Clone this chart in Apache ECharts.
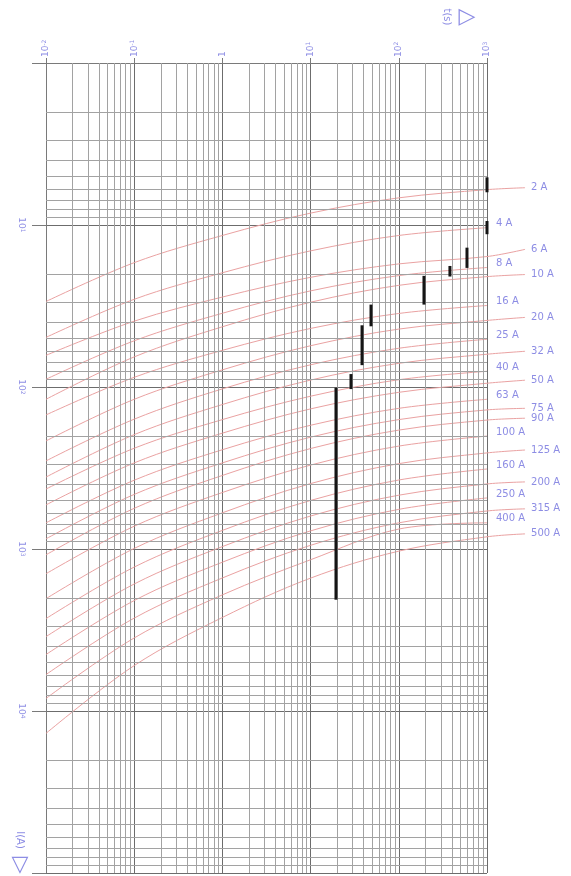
<!DOCTYPE html>
<html>
<head>
<meta charset="utf-8">
<script src="https://cdn.jsdelivr.net/npm/echarts@6/dist/echarts.min.js"></script>
<style>
html,body{margin:0;padding:0;background:#ffffff;}
#chart{width:571px;height:876px;}
</style>
</head>
<body>
<div id="chart"></div>
<script>
// ---------- DATA ----------
// time values (s) where curve currents were read (decade grid lines), plus the leader end
const curveTimes = [0.01, 0.1, 1, 10, 100, 1000];
const leaderTime = 2700;

const curveNames = ['2 A','4 A','6 A','8 A','10 A','16 A','20 A','25 A','32 A','40 A','50 A',
                    '63 A','75 A','90 A','100 A','125 A','160 A','200 A','250 A','315 A','400 A','500 A'];

// current (A) at each curve time; a 7th value is the end of the leader line to the label
const c2   = [29.3, 16.9, 11.5, 8.38, 6.75, 6.01, 5.85];
const c4   = [48.7, 28.4, 19.5, 14.3, 11.5, 10.3];
const c6   = [62.8, 38.7, 27.5, 20.8, 17.2, 15.5, 14.0];
const c8   = [88.1, 51.1, 34.6, 25.2, 20.3, 18.1];
const c10  = [117, 64.2, 41.9, 29.6, 23.3, 20.6, 20.0];
const c16  = [146, 85.7, 58.5, 42.9, 34.7, 31.0];
const c20  = [211, 117, 77.1, 54.8, 43.3, 38.3, 36.7];
const c25  = [280, 155, 101, 71.8, 56.8, 50.0];
const c32  = [352, 193, 126, 89.1, 70.3, 61.8, 59.3];
const c40  = [417, 234, 156, 112, 88.7, 78.7];
const c50  = [522, 288, 189, 134, 106, 93.2, 89.3];
const c63  = [673, 368, 239, 169, 133, 117];
const c75  = [844, 450, 288, 200, 156, 136, 133];
const c90  = [1059, 548, 344, 235, 181, 157, 153];
const c100 = [1384, 706, 438, 297, 227, 197];
const c125 = [1970, 967, 584, 386, 291, 250, 240];
const c160 = [2612, 1259, 749, 490, 367, 314];
const c200 = [3373, 1600, 942, 611, 455, 388, 377];
const c250 = [4345, 2023, 1175, 754, 556, 473];
const c315 = [5768, 2594, 1469, 925, 673, 569, 552];
const c400 = [8091, 3436, 1866, 1135, 735, 673];
const c500 = [13270, 5080, 2570, 1472, 1005, 820, 787];

// black gate bars: time (s), lower and upper current (A)
const barTimes = [1000, 1000, 593, 380, 193, 48.4, 38.3, 28.7, 19.4];
const barLow   = [5.08, 9.45, 13.8, 17.9, 20.6, 31.0, 41.6, 83.2, 101];
const barHigh  = [6.28, 11.4, 18.4, 20.8, 31.0, 42.2, 73.3, 103, 2056];

// grid tick values
const timeDecades = [0.01, 0.1, 1, 10, 100];
const currentDecades = [1, 10, 100, 1000, 10000];
const minorMultipliers = [2, 3, 4, 5, 6, 7, 8, 9];

// ---------- CHART ----------
const curves = [c2,c4,c6,c8,c10,c16,c20,c25,c32,c40,c50,c63,c75,c90,c100,c125,c160,c200,c250,c315,c400,c500];
const labelColor = '#8d8de4';
const curveColor = '#eaa2a2';

// plot geometry: 5 time decades over 441 px, 5 current decades over 815 px
const plotLeft = 46, plotTop = 63, plotW = 441, plotH = 815;
const timeMin = 0.01, timeMax = 1000;
const wideTimeMax = Math.pow(10, 3.5);           // overlay axis reaching past the grid for leaders
const wideW = plotW * 5.5 / 5;

function sci(v) {
  const e = Math.round(Math.log10(v));
  if (e === 0) return '{b|1}';
  return '{b|10}{s|' + e + '}';
}
const rich = {
  b: {fontSize: 9, color: labelColor, fontFamily: 'DejaVu Sans'},
  s: {fontSize: 6, color: labelColor, fontFamily: 'DejaVu Sans', verticalAlign: 'top', padding: [0,0,4,0]}
};

const minorX = [];
timeDecades.forEach(d => minorMultipliers.forEach(m => minorX.push(d * m)));
const minorY = [];
currentDecades.forEach(d => minorMultipliers.forEach(m => minorY.push(d * m)));

const series = [];
series.push({
  type: 'line', data: [], silent: true, z: 1, xAxisIndex: 0, yAxisIndex: 0,
  markLine: {
    silent: true, symbol: ['none','none'], animation: false,
    label: {show: false},
    lineStyle: {color: '#a2a2a2', width: 1, type: 'solid'},
    emphasis: {disabled: true},
    data: minorX.map(v => ({xAxis: v})).concat(minorY.map(v => ({yAxis: v})))
  }
});

curves.forEach((arr, i) => {
  const data = curveTimes.map((t, k) => [t, arr[k]]);
  const extended = arr.length > curveTimes.length;
  if (extended) data.push([leaderTime, arr[curveTimes.length]]);
  series.push({
    type: 'line', name: curveNames[i], data: data, xAxisIndex: 1, yAxisIndex: 1,
    smooth: 0.35, symbol: 'none', clip: false, z: 3, silent: true,
    lineStyle: {color: curveColor, width: 1},
    endLabel: {
      show: true, formatter: curveNames[i], color: labelColor,
      fontSize: 10, fontFamily: 'DejaVu Sans', distance: extended ? 6 : 9,
      offset: extended ? [0, 0] : [0, -4]
    },
    animation: false
  });
});

barTimes.forEach((t, i) => {
  series.push({
    type: 'line', data: [[t, barLow[i]], [t, barHigh[i]]], xAxisIndex: 0, yAxisIndex: 0,
    symbol: 'none', z: 5, silent: true, clip: false,
    lineStyle: {color: '#151515', width: 3, cap: 'butt'},
    animation: false
  });
});

const chart = echarts.init(document.getElementById('chart'), null, {renderer: 'canvas'});
chart.setOption({
  animation: false,
  backgroundColor: '#ffffff',
  grid: [
    {left: plotLeft, top: plotTop, width: plotW, height: plotH, containLabel: false},
    {left: plotLeft, top: plotTop, width: wideW, height: plotH, containLabel: false}
  ],
  xAxis: [{
    type: 'log', logBase: 10, position: 'top', min: timeMin, max: timeMax, gridIndex: 0,
    axisLine: {show: true, lineStyle: {color: '#7a7a7a', width: 1}},
    axisTick: {show: true, length: 5, lineStyle: {color: '#7a7a7a'}},
    splitLine: {show: true, lineStyle: {color: '#6c6c6c', width: 1}},
    axisLabel: {rotate: -90, margin: 6, formatter: v => sci(v), rich: rich}
  }, {
    type: 'log', logBase: 10, position: 'top', min: timeMin, max: wideTimeMax, gridIndex: 1, show: false
  }],
  yAxis: [{
    type: 'log', logBase: 10, inverse: true, min: 1, max: 100000, gridIndex: 0,
    axisLine: {show: true, lineStyle: {color: '#7a7a7a', width: 1}},
    axisTick: {show: true, length: 14, lineStyle: {color: '#7a7a7a'}},
    splitLine: {show: true, lineStyle: {color: '#6c6c6c', width: 1}},
    axisLabel: {rotate: -90, margin: 20, formatter: v => (v <= 1 || v >= 100000) ? '' : sci(v), rich: rich}
  }, {
    type: 'log', logBase: 10, inverse: true, min: 1, max: 100000, gridIndex: 1, show: false
  }],
  graphic: [
    {type: 'text', x: 447, y: 17, rotation: -Math.PI / 2,
     style: {text: 't(s)', fill: labelColor, fontSize: 10, fontFamily: 'DejaVu Sans', align: 'center', verticalAlign: 'middle'}},
    {type: 'text', x: 467, y: 17,
     style: {text: '▷', fill: labelColor, fontSize: 22, fontFamily: 'DejaVu Sans', align: 'center', verticalAlign: 'middle'}},
    {type: 'text', x: 20, y: 840, rotation: -Math.PI / 2,
     style: {text: 'I(A)', fill: labelColor, fontSize: 10, fontFamily: 'DejaVu Sans', align: 'center', verticalAlign: 'middle'}},
    {type: 'text', x: 20, y: 865,
     style: {text: '▽', fill: labelColor, fontSize: 22, fontFamily: 'DejaVu Sans', align: 'center', verticalAlign: 'middle'}}
  ],
  series: series
});
</script>
</body>
</html>
